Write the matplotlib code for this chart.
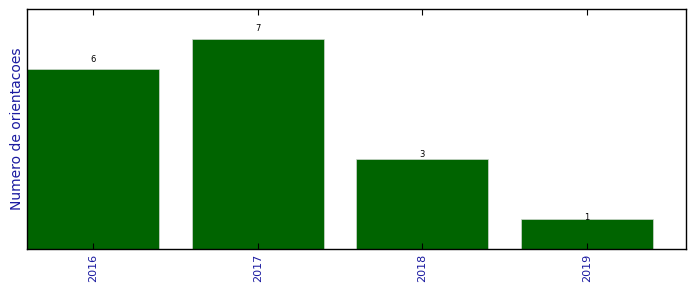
import matplotlib
matplotlib.use('Agg')
import matplotlib.pyplot as plt

anos = [2016, 2017, 2018, 2019]
orientacoes = [6, 7, 3, 1]
rotulos = ['2016', '2017', '2018', '2019']

fig = plt.figure(figsize=(6.96, 2.92), dpi=100)
ax = fig.add_axes([0.0388, 0.147, 0.9468, 0.822])

bars = ax.bar(anos, orientacoes, width=0.8, color='#006400', edgecolor='#d0d8d0', linewidth=0.5)
for b in bars:
    h = b.get_height()
    ax.text(b.get_x() + b.get_width() / 2., 1.047 * h + 0.02, '%d' % int(h),
            ha='center', va='center', fontsize=6)

ax.set_xlim(2015.6, 2019.6)
ax.set_ylim(0, 8)
ax.set_xticks(anos)
ax.set_xticklabels(rotulos, rotation=90, color='#1a1aa0', fontsize=8)
ax.set_yticks([])
ax.set_ylabel('Numero de orientacoes', color='#1a1aa0', fontsize=10, labelpad=2)
ax.tick_params(axis='x', direction='in', top=True, bottom=True, length=4, width=0.8)
for s in ax.spines.values():
    s.set_linewidth(1.0)

fig.savefig('out.png', dpi=100)
